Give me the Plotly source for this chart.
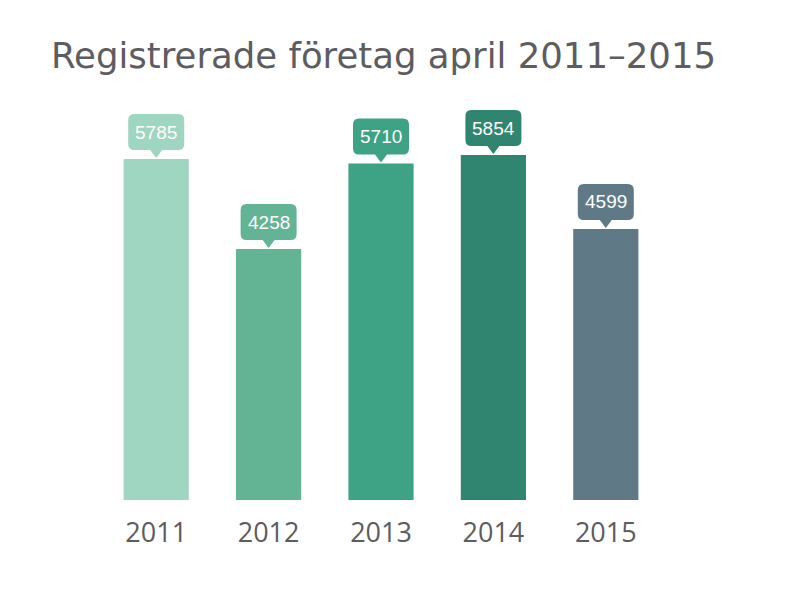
import plotly.graph_objects as go

# data
years = ["2011", "2012", "2013", "2014", "2015"]
registered = [5785, 4258, 5710, 5854, 4599]
bar_colors = ["#9fd6c1", "#63b495", "#3ea284", "#2f856f", "#5f7a86"]

TEXT_GREY = "#5d5c60"

fig = go.Figure()

fig.add_trace(go.Bar(x=years,
                     y=registered,
                     marker_color=bar_colors,
                     marker_line_width=0,
                     hoverinfo="skip"))

# speech-bubble labels above each bar, sized in pixels and anchored to the bar top
bubble = ("M -22,9 L -6,9 L 0,1 L 6,9 L 22,9 Q 28,9 28,15 L 28,39 "
          "Q 28,45 22,45 L -22,45 Q -28,45 -28,39 L -28,15 Q -28,9 -22,9 Z")

for i, (val, col) in enumerate(zip(registered, bar_colors)):
    fig.add_shape(type="path",
                  xref="x", yref="y",
                  xsizemode="pixel", ysizemode="pixel",
                  xanchor=i, yanchor=val,
                  path=bubble,
                  fillcolor=col,
                  line_width=0,
                  layer="below")
    fig.add_annotation(x=i, y=val,
                       xref="x", yref="y",
                       text=str(val),
                       showarrow=False,
                       yshift=27,
                       font=dict(family="Liberation Sans, Arial", size=19, color="white"))

# the page body has an 8px margin, so the figure margins are trimmed by 8px
fig.update_layout(width=791,
                  height=593,
                  margin={"l": 92, "r": 137, "t": 92, "b": 101},
                  paper_bgcolor="white",
                  plot_bgcolor="white",
                  bargap=0.42,
                  showlegend=False,
                  title=dict(text="Registrerade företag april 2011–2015",
                             x=43 / 791, xanchor="left", xref="container",
                             y=1 - 48 / 593, yanchor="middle",
                             font=dict(family="DejaVu Sans", size=35.5, color=TEXT_GREY)))

fig.update_xaxes(type="category",
                 categoryorder="array", categoryarray=years,
                 range=[-0.5, len(years) - 0.5], autorange=False,
                 showgrid=False, zeroline=False, showline=False,
                 ticks="outside", ticklen=9, tickcolor="rgba(0,0,0,0)",
                 tickfont=dict(family="Open Sans", size=27, color=TEXT_GREY))
fig.update_yaxes(range=[0, 6788], autorange=False,
                 showgrid=False, zeroline=False, showline=False,
                 showticklabels=False)

fig.write_html("out.html")
